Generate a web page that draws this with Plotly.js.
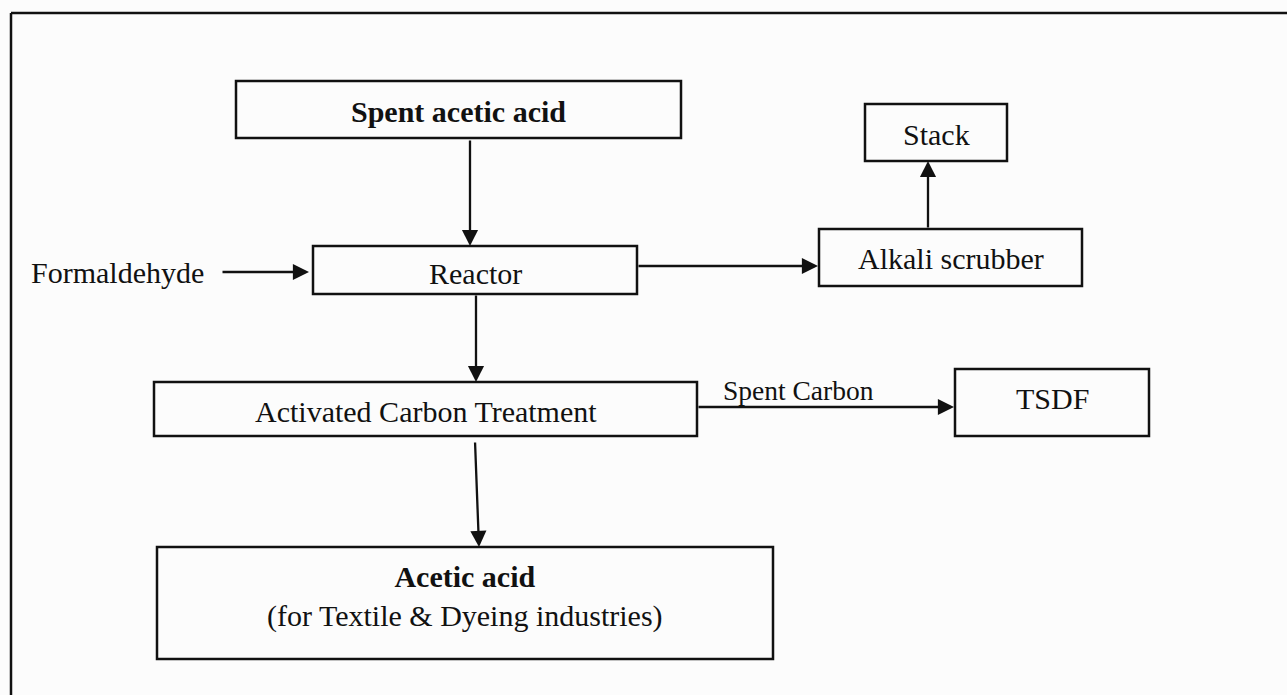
<!DOCTYPE html>
<html>
<head>
<meta charset="utf-8">
<script src="https://cdn.plot.ly/plotly-3.0.1.min.js"></script>
<style>html,body{margin:0;padding:0;background:#fcfcfc;}#chart{width:1287px;height:695px;}</style>
</head>
<body>
<div id="chart"></div>
<script>
// ---- Content (text of the flow chart) ----
const nodeIds    = ['spent', 'reactor', 'stack', 'scrubber', 'act', 'tsdf', 'product'];
const nodeLabels = ['<b>Spent acetic acid</b>', 'Reactor', 'Stack', 'Alkali scrubber',
                    'Activated Carbon Treatment', 'TSDF',
                    '<b>Acetic acid</b><br>(for Textile & Dyeing industries)'];
const inputIds    = ['formaldehyde'];
const inputLabels = ['Formaldehyde'];
const edgeFrom   = ['spent', 'formaldehyde', 'reactor', 'scrubber', 'reactor', 'act', 'act'];
const edgeTo     = ['reactor', 'reactor', 'scrubber', 'stack', 'act', 'tsdf', 'product'];
const edgeLabels = ['', '', '', '', '', 'Spent Carbon', ''];

// ---- Geometry (layout of the drawing, in page pixels) ----
const boxGeom = {
  spent:    {x0: 236, x1: 681, y0: 81,  y1: 138, ty: 111},
  reactor:  {x0: 313, x1: 637, y0: 246, y1: 294, ty: 273},
  stack:    {x0: 865, x1: 1007, y0: 104, y1: 161, ty: 134},
  scrubber: {x0: 819, x1: 1082, y0: 229, y1: 286, ty: 258},
  act:      {x0: 154, x1: 697, y0: 382, y1: 436, ty: 411},
  tsdf:     {x0: 955, x1: 1149, y0: 369, y1: 436, ty: 398},
  product:  {x0: 157, x1: 773, y0: 547, y1: 659, ty: 596}
};
const inputGeom = { formaldehyde: {x: 117, y: 272} };
const edgeGeom = [
  {ax: 470, ay: 139, x: 470, y: 246},
  {ax: 221, ay: 272, x: 309, y: 272},
  {ax: 637, ay: 266, x: 818, y: 266},
  {ax: 928, ay: 229, x: 928, y: 161},
  {ax: 476, ay: 294, x: 476, y: 382},
  {ax: 697, ay: 407, x: 954, y: 407, lx: 798, ly: 390},
  {ax: 475, ay: 441, x: 479, y: 547}
];

const FONT = 'Liberation Serif, Times New Roman, serif';
const INK = '#111111';

const shapes = [];
const annotations = [];

// outer frame (top and left edges only, as in the scan)
shapes.push({type: 'line', xref: 'x', yref: 'y', x0: 11, y0: 13, x1: 1287, y1: 13, line: {color: INK, width: 2.5}});
shapes.push({type: 'line', xref: 'x', yref: 'y', x0: 11, y0: 13, x1: 11, y1: 695, line: {color: INK, width: 2.5}});

nodeIds.forEach((id, i) => {
  const g = boxGeom[id];
  shapes.push({type: 'rect', xref: 'x', yref: 'y', x0: g.x0, x1: g.x1, y0: g.y0, y1: g.y1,
               line: {color: INK, width: 2.5}, fillcolor: 'rgba(0,0,0,0)'});
  annotations.push({xref: 'x', yref: 'y', x: (g.x0 + g.x1) / 2, y: g.ty, text: nodeLabels[i],
                    showarrow: false, xanchor: 'center', yanchor: 'middle',
                    font: {family: FONT, size: 30, color: INK}});
});

inputIds.forEach((id, i) => {
  const g = inputGeom[id];
  annotations.push({xref: 'x', yref: 'y', x: g.x, y: g.y, text: inputLabels[i], showarrow: false,
                    xanchor: 'center', yanchor: 'middle', font: {family: FONT, size: 30, color: INK}});
});

edgeFrom.forEach((f, i) => {
  const e = edgeGeom[i];
  annotations.push({xref: 'x', yref: 'y', axref: 'x', ayref: 'y', x: e.x, y: e.y, ax: e.ax, ay: e.ay,
                    text: '', showarrow: true, arrowhead: 2, arrowsize: 1.4, arrowwidth: 2.3,
                    arrowcolor: INK, standoff: 0, startstandoff: 0});
  if (edgeLabels[i]) {
    annotations.push({xref: 'x', yref: 'y', x: e.lx, y: e.ly, text: edgeLabels[i], showarrow: false,
                      xanchor: 'center', yanchor: 'middle', font: {family: FONT, size: 27.5, color: INK}});
  }
});

const layout = {
  width: 1287, height: 695,
  margin: {l: 0, r: 0, t: 0, b: 0},
  paper_bgcolor: '#fcfcfc', plot_bgcolor: '#fcfcfc',
  xaxis: {range: [0, 1287], visible: false, fixedrange: true},
  yaxis: {range: [695, 0], visible: false, fixedrange: true},
  showlegend: false,
  shapes: shapes,
  annotations: annotations
};

Plotly.newPlot('chart', [], layout, {displayModeBar: false, staticPlot: true});
</script>
</body>
</html>
